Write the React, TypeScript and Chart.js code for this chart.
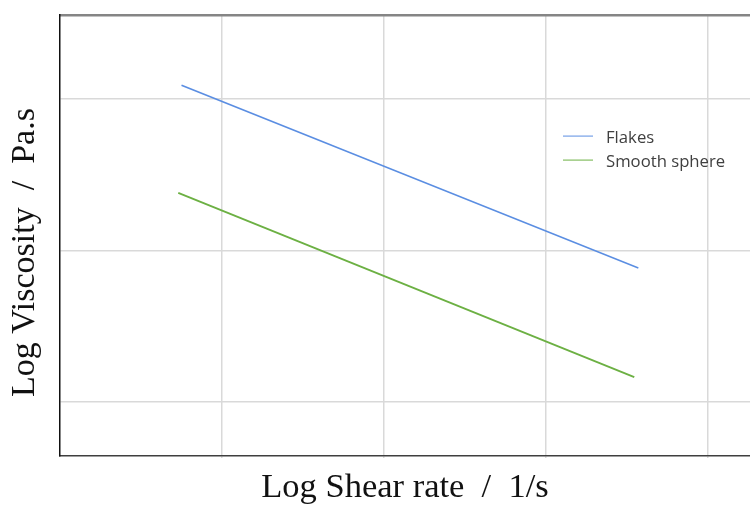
import React, { useEffect, useRef } from "react";
import { Chart, registerables } from "chart.js";

Chart.register(...registerables);

const seriesNames = ["Flakes", "Smooth sphere"];
const flakesX = [0.75, 3.57];
const flakesY = [3.09, 1.885];
const sphereX = [0.73, 3.545];
const sphereY = [2.38, 1.165];
const xGridTicks = [1, 2, 3, 4];
const yGridTicks = [1, 2, 3];
const xTitle = "Log Shear rate  /  1/s";
const yTitle = "Log Viscosity  /  Pa.s    ";

const legendPlugin = {
  id: "innerLegend",
  afterDraw(chart: any) {
    const ctx = chart.ctx;
    const x = chart.scales.x;
    const y = chart.scales.y;
    const lx = x.getPixelForValue(3.105);
    const ly = y.getPixelForValue(2.755);
    ctx.save();
    ctx.font = "16.7px 'Open Sans'";
    ctx.textBaseline = "middle";
    chart.data.datasets.forEach((ds: any, i: number) => {
      const yy = ly + i * 24;
      ctx.strokeStyle = ds.borderColor;
      ctx.lineWidth = 1;
      ctx.beginPath();
      ctx.moveTo(lx, yy);
      ctx.lineTo(lx + 30, yy);
      ctx.stroke();
      ctx.fillStyle = "#404040";
      ctx.fillText(ds.label, lx + 43, yy + 2);
    });
    ctx.restore();
  },
};

export default function App() {
  const ref = useRef<HTMLCanvasElement>(null);
  useEffect(() => {
    if (!ref.current) return;
    const chart = new Chart(ref.current, {
      type: "scatter",
      data: {
        datasets: [
          {
            label: seriesNames[0],
            data: flakesX.map((v, i) => ({ x: v, y: flakesY[i] })),
            borderColor: "#5b8ee2",
            backgroundColor: "#5b8ee2",
            borderWidth: 1.6,
            showLine: true,
            pointRadius: 0,
          },
          {
            label: seriesNames[1],
            data: sphereX.map((v, i) => ({ x: v, y: sphereY[i] })),
            borderColor: "#6cb043",
            backgroundColor: "#6cb043",
            borderWidth: 1.8,
            showLine: true,
            pointRadius: 0,
          },
        ],
      },
      options: {
        animation: false,
        responsive: false,
        layout: { padding: { top: 15, right: 0, bottom: 0, left: 0 } },
        plugins: { legend: { display: false }, tooltip: { enabled: false } },
        scales: {
          x: {
            type: "linear",
            min: 0,
            max: 690 / 162,
            afterBuildTicks: (s: any) => {
              s.ticks = xGridTicks.map((v) => ({ value: v }));
            },
            afterFit: (s: any) => {
              s.height = 50;
            },
            ticks: { display: false },
            grid: { color: "#d9d9d9", lineWidth: 1.5, drawTicks: true, tickLength: 2 },
            border: { display: true, color: "#3f3f3f", width: 1.5 },
            title: {
              display: true,
              text: xTitle,
              font: { family: "'Liberation Serif'", size: 34.5, lineHeight: 1.05 },
              color: "#111111",
              padding: 0,
            },
          },
          xTop: {
            type: "linear",
            position: "top",
            min: 0,
            max: 1,
            afterFit: (s: any) => {
              s.height = 0;
            },
            ticks: { display: false },
            grid: { display: false, drawTicks: false },
            border: { display: true, color: "#858585", width: 2.5 },
          },
          y: {
            type: "linear",
            min: 0.644,
            max: 3.554,
            afterBuildTicks: (s: any) => {
              s.ticks = yGridTicks.map((v) => ({ value: v }));
            },
            afterFit: (s: any) => {
              s.width = 60;
            },
            ticks: { display: false },
            grid: { color: "#d9d9d9", lineWidth: 1.5, drawTicks: false },
            border: { display: true, color: "#111111", width: 1.5 },
            title: {
              display: true,
              text: yTitle,
              font: { family: "'Liberation Serif'", size: 34, lineHeight: 1.1 },
              color: "#111111",
              padding: { top: 6, bottom: 0 },
            },
          },
        },
      },
      plugins: [legendPlugin],
    });
    return () => chart.destroy();
  }, []);
  return (
    <div
      style={{
        position: "fixed",
        left: 0,
        top: 0,
        width: 750,
        height: 506,
        overflow: "hidden",
        background: "#ffffff",
      }}
    >
      <canvas ref={ref} width={750} height={506} style={{ display: "block" }} />
    </div>
  );
}
